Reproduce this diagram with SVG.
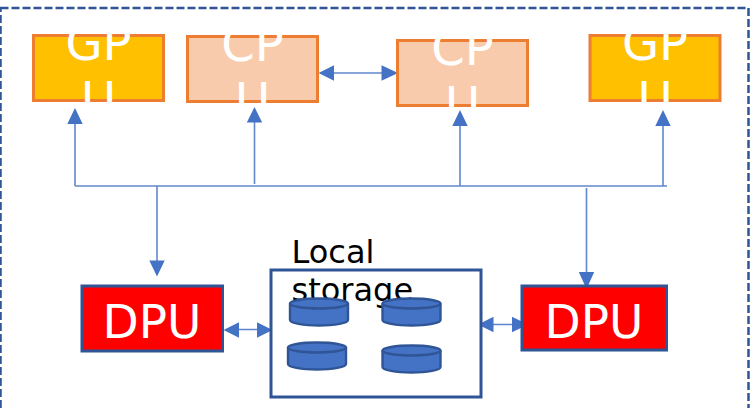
<svg xmlns="http://www.w3.org/2000/svg" width="750" height="408" viewBox="0 0 750 408">
<style>
.t{font-family:"DejaVu Sans",sans-serif}
.w{fill:#fff}
.gpu{fill:#ffc000;stroke:#ed7d31;stroke-width:3}
.cpu{fill:#f8cbad;stroke:#ed7d31;stroke-width:3}
.dpu{fill:#f00;stroke:#2f5597;stroke-width:3}
.c{stroke:#4472c4;stroke-width:1.6;fill:none;opacity:.85}
.h{fill:#4472c4}
.cy{fill:#4472c4;stroke:#2f5597;stroke-width:2.4}
</style>
<defs>
<clipPath id="c1"><rect x="32" y="34" width="133" height="68"/></clipPath>
<clipPath id="c2"><rect x="186" y="35" width="133" height="68"/></clipPath>
<clipPath id="c3"><rect x="396" y="39" width="133" height="68"/></clipPath>
<clipPath id="c4"><rect x="589" y="34" width="133" height="68"/></clipPath>
<g id="cyl"><path class="cy" d="M0 5.500V22C0 25 13 27.500 29 27.500S58 25 58 22V5.500"/><ellipse class="cy" cx="29" cy="5.500" rx="29" ry="5"/></g>
</defs>
<rect x="0.500" y="8" width="748" height="420" fill="none" stroke="#2f5597" stroke-width="2.500" stroke-dasharray="8 3"/>
<g id="connectors">
<path class="c" d="M75 186H667M75 186V122M254.500 184V120M460 186V124M663 186V124M157 186V262M586.500 188V274M333 73H384M236 329.500H259M492 324.500H514"/>
<path class="h" d="M75 108L82.700 124H67.300ZM254.500 107L262.200 122.500H246.800ZM460 110L467.700 126H452.300ZM663 110L670.700 126H655.300ZM157 276.500L149.300 260.500H164.700ZM586.500 289L578.800 272H594.200ZM318.500 73L334 65.300V80.700ZM398 73L381.500 65.300V80.700ZM223.500 330L239 322.300V337.700ZM272.500 330L257 322.300V337.700ZM478 324.500L493.500 316.800V332.200ZM528 324.500L512 316.800V332.200Z"/>
</g>
<g id="gpu1"><rect class="gpu" x="33.500" y="35.500" width="130" height="65"/><g clip-path="url(#c1)"><text class="t w" font-size="48" text-anchor="middle" x="98.500" y="59.500">GP</text><text class="t w" font-size="48" text-anchor="middle" x="98.500" y="115.500">U</text></g></g>
<g id="cpu1"><rect class="cpu" x="187.500" y="36.500" width="130" height="65"/><g clip-path="url(#c2)"><text class="t w" font-size="48" text-anchor="middle" x="252.500" y="60.500">CP</text><text class="t w" font-size="48" text-anchor="middle" x="252.500" y="116.500">U</text></g></g>
<g id="cpu2"><rect class="cpu" x="397.500" y="40.500" width="130" height="65"/><g clip-path="url(#c3)"><text class="t w" font-size="48" text-anchor="middle" x="462.500" y="64.500">CP</text><text class="t w" font-size="48" text-anchor="middle" x="462.500" y="120.500">U</text></g></g>
<g id="gpu2"><rect class="gpu" x="590" y="35.500" width="130" height="65"/><g clip-path="url(#c4)"><text class="t w" font-size="48" text-anchor="middle" x="655" y="59.500">GP</text><text class="t w" font-size="48" text-anchor="middle" x="655" y="115.500">U</text></g></g>
<g id="dpu1"><rect class="dpu" x="82" y="286" width="140.500" height="65"/><text class="t w" font-size="47" text-anchor="middle" x="152" y="338">DPU</text></g>
<g id="dpu2"><rect class="dpu" x="522" y="286" width="144.500" height="64"/><text class="t w" font-size="47" text-anchor="middle" x="594" y="338">DPU</text></g>
<g id="storage">
<rect x="271" y="270" width="210" height="127" fill="#fff" stroke="#2f5597" stroke-width="3"/>
<text class="t" font-size="32" x="291.500" y="263" fill="#000">Local</text>
<text class="t" font-size="32" x="291.500" y="300.500" fill="#000">storage</text>
<use href="#cyl" x="290" y="298"/>
<use href="#cyl" x="382.500" y="298"/>
<use href="#cyl" x="288" y="342"/>
<use href="#cyl" x="382.500" y="345"/>
</g>
</svg>
